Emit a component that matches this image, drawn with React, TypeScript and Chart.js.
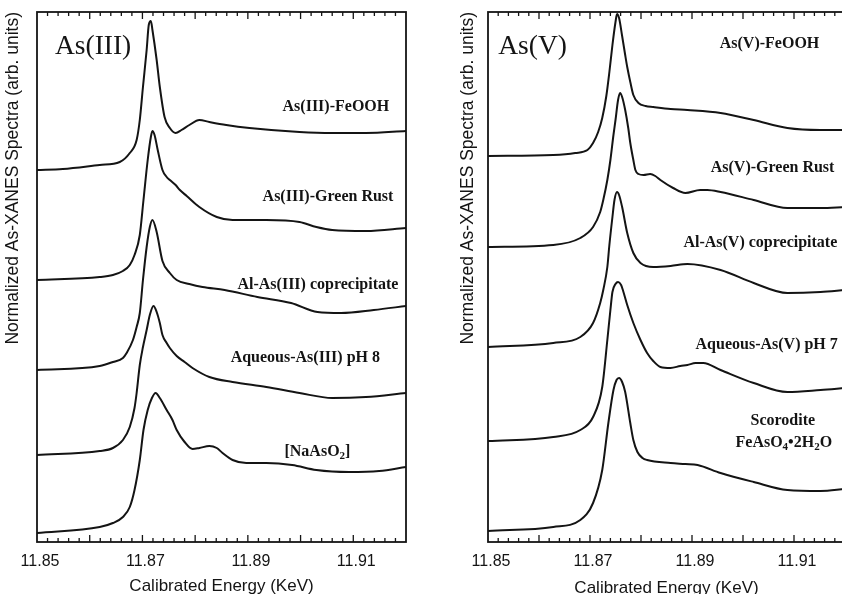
import React, { useEffect, useRef } from "react";
import { Chart, registerables } from "chart.js";

Chart.register(...registerables);

// ---------- axis ----------
const xMin = 11.85;
const xMax = 11.92;
const xTickLabels = ["11.85", "11.87", "11.89", "11.91"];
const yMin = 0;
const yMax = 5.3;

// ---------- As(III) panel (energy keV, stacked normalized intensity) ----------
const asIIIFeOOH_E = [11.85, 11.8549, 11.8619, 11.8657, 11.8676, 11.8689, 11.8695, 11.8701, 11.8708, 11.8712, 11.8716, 11.8719, 11.8727, 11.8733, 11.8742, 11.8752, 11.8763, 11.8774, 11.8789, 11.8808, 11.8827, 11.8859, 11.8903, 11.8998, 11.906, 11.9124, 11.92];
const asIIIFeOOH_Y = [3.72, 3.73, 3.77, 3.8, 3.89, 4.02, 4.22, 4.55, 4.92, 5.17, 5.21, 5.12, 4.82, 4.55, 4.25, 4.14, 4.09, 4.12, 4.17, 4.22, 4.2, 4.17, 4.14, 4.1, 4.09, 4.09, 4.11];

const asIIIGreenRust_E = [11.85, 11.8619, 11.8644, 11.8663, 11.8676, 11.8685, 11.8695, 11.8702, 11.871, 11.8716, 11.8719, 11.8723, 11.8729, 11.8738, 11.8746, 11.8752, 11.8763, 11.8771, 11.8784, 11.8808, 11.8841, 11.8871, 11.8935, 11.8998, 11.903, 11.906, 11.9124, 11.92];
const asIIIGreenRust_Y = [2.62, 2.65, 2.67, 2.71, 2.77, 2.87, 3.07, 3.42, 3.82, 4.05, 4.11, 4.07, 3.92, 3.72, 3.65, 3.62, 3.57, 3.52, 3.46, 3.35, 3.25, 3.22, 3.22, 3.2, 3.15, 3.12, 3.11, 3.14];

const alAsIII_E = [11.85, 11.8619, 11.8644, 11.8663, 11.867, 11.8682, 11.8689, 11.8695, 11.8701, 11.8708, 11.8714, 11.8719, 11.8727, 11.8738, 11.8752, 11.8765, 11.8789, 11.8814, 11.8856, 11.8918, 11.8982, 11.9032, 11.9077, 11.9139, 11.92];
const alAsIII_Y = [1.72, 1.76, 1.8, 1.84, 1.89, 2.02, 2.15, 2.29, 2.62, 2.95, 3.15, 3.22, 3.1, 2.81, 2.69, 2.62, 2.58, 2.55, 2.52, 2.45, 2.39, 2.3, 2.29, 2.32, 2.36];

const aqAsIII_E = [11.85, 11.8619, 11.8644, 11.8663, 11.8676, 11.8685, 11.8689, 11.8695, 11.8701, 11.8708, 11.8714, 11.8721, 11.8727, 11.8733, 11.8738, 11.8746, 11.8752, 11.8765, 11.878, 11.8795, 11.8827, 11.8871, 11.8935, 11.8998, 11.906, 11.9124, 11.92];
const aqAsIII_Y = [0.87, 0.91, 0.94, 1.02, 1.15, 1.34, 1.49, 1.77, 1.95, 2.12, 2.27, 2.36, 2.3, 2.19, 2.07, 1.99, 1.94, 1.86, 1.8, 1.74, 1.65, 1.6, 1.55, 1.49, 1.44, 1.45, 1.49];

const naAsO2_E = [11.85, 11.8619, 11.8644, 11.8663, 11.8676, 11.8685, 11.8695, 11.8702, 11.871, 11.8718, 11.8725, 11.8733, 11.8746, 11.8757, 11.8765, 11.878, 11.8795, 11.8808, 11.8827, 11.8841, 11.8852, 11.8871, 11.8897, 11.8935, 11.8984, 11.903, 11.9092, 11.9149, 11.92];
const naAsO2_Y = [0.09, 0.15, 0.19, 0.25, 0.35, 0.52, 0.82, 1.12, 1.32, 1.44, 1.49, 1.44, 1.32, 1.22, 1.12, 1.0, 0.93, 0.94, 0.96, 0.94, 0.89, 0.82, 0.79, 0.79, 0.77, 0.72, 0.7, 0.71, 0.75];

// ---------- As(V) panel ----------
const asVFeOOH_E = [11.85, 11.8628, 11.8671, 11.8695, 11.8706, 11.8716, 11.8724, 11.8732, 11.8738, 11.8744, 11.875, 11.8753, 11.8757, 11.8763, 11.8769, 11.8773, 11.8779, 11.8785, 11.8795, 11.8809, 11.8824, 11.8858, 11.8891, 11.8956, 11.9021, 11.9087, 11.9152, 11.92];
const asVFeOOH_Y = [3.86, 3.87, 3.89, 3.92, 3.99, 4.1, 4.24, 4.46, 4.7, 4.97, 5.2, 5.28, 5.24, 5.06, 4.87, 4.75, 4.6, 4.47, 4.39, 4.36, 4.35, 4.33, 4.32, 4.29, 4.22, 4.14, 4.12, 4.12];

const asVGreenRust_E = [11.85, 11.8628, 11.8681, 11.8706, 11.872, 11.8726, 11.8734, 11.874, 11.8746, 11.875, 11.8755, 11.8759, 11.8763, 11.8769, 11.8775, 11.8779, 11.8785, 11.8789, 11.8795, 11.8805, 11.8818, 11.8828, 11.8838, 11.8863, 11.8887, 11.8916, 11.893, 11.8956, 11.9021, 11.9087, 11.9152, 11.92];
const asVGreenRust_Y = [2.95, 2.97, 3.04, 3.15, 3.3, 3.42, 3.62, 3.82, 4.07, 4.22, 4.42, 4.49, 4.45, 4.32, 4.14, 3.99, 3.82, 3.72, 3.68, 3.67, 3.68, 3.66, 3.62, 3.54, 3.49, 3.52, 3.52, 3.5, 3.42, 3.34, 3.34, 3.35];

const alAsV_E = [11.85, 11.8628, 11.8681, 11.8706, 11.872, 11.8726, 11.8734, 11.8738, 11.8744, 11.8748, 11.8753, 11.8757, 11.8763, 11.8773, 11.8785, 11.8799, 11.8824, 11.8858, 11.8891, 11.8956, 11.9021, 11.9087, 11.9152, 11.92];
const alAsV_Y = [1.95, 1.99, 2.05, 2.19, 2.39, 2.52, 2.75, 2.97, 3.25, 3.42, 3.5, 3.47, 3.35, 3.09, 2.89, 2.79, 2.75, 2.76, 2.78, 2.72, 2.59, 2.49, 2.5, 2.52];

const aqAsV_E = [11.85, 11.8628, 11.8681, 11.8706, 11.8724, 11.8734, 11.874, 11.8744, 11.875, 11.8755, 11.8761, 11.8765, 11.8773, 11.8785, 11.8799, 11.8812, 11.8824, 11.8838, 11.8858, 11.8877, 11.8891, 11.8907, 11.8922, 11.8956, 11.9021, 11.9087, 11.9152, 11.92];
const aqAsV_Y = [1.01, 1.05, 1.12, 1.25, 1.55, 2.02, 2.32, 2.5, 2.58, 2.6, 2.57, 2.51, 2.37, 2.19, 2.02, 1.89, 1.81, 1.75, 1.74, 1.76, 1.77, 1.79, 1.79, 1.72, 1.59, 1.5, 1.52, 1.54];

const scorodite_E = [11.85, 11.8628, 11.8681, 11.8706, 11.8724, 11.8736, 11.8746, 11.8752, 11.8757, 11.8763, 11.8769, 11.8779, 11.8785, 11.8793, 11.8803, 11.8812, 11.8858, 11.8887, 11.8911, 11.8956, 11.9021, 11.9087, 11.9152, 11.92];
const scorodite_Y = [0.11, 0.15, 0.22, 0.39, 0.72, 1.19, 1.52, 1.62, 1.64, 1.6, 1.5, 1.19, 1.02, 0.9, 0.84, 0.82, 0.79, 0.78, 0.77, 0.69, 0.6, 0.52, 0.51, 0.53];

// ---------- annotations (text, energy, value) ----------
type Label = { text: string; x: number; y: number; align: CanvasTextAlign; big?: boolean };

const asIIILabels: Label[] = [
  { text: "As(III)", x: 11.8534, y: 4.95, align: "left", big: true },
  { text: "As(III)-FeOOH", x: 11.9067, y: 4.35, align: "center" },
  { text: "As(III)-Green Rust", x: 11.9052, y: 3.45, align: "center" },
  { text: "Al-As(III) coprecipitate", x: 11.9033, y: 2.57, align: "center" },
  { text: "Aqueous-As(III) pH 8", x: 11.9009, y: 1.84, align: "center" },
  { text: "[NaAsO_2]", x: 11.9032, y: 0.9, align: "center" },
];

const asVLabels: Label[] = [
  { text: "As(V)", x: 11.852, y: 4.95, align: "left", big: true },
  { text: "As(V)-FeOOH", x: 11.9052, y: 4.98, align: "center" },
  { text: "As(V)-Green Rust", x: 11.9058, y: 3.74, align: "center" },
  { text: "Al-As(V) coprecipitate", x: 11.9034, y: 2.99, align: "center" },
  { text: "Aqueous-As(V) pH 7", x: 11.8907, y: 1.97, align: "left" },
  { text: "Scorodite", x: 11.9078, y: 1.21, align: "center" },
  { text: "FeAsO_4•2H_2O", x: 11.908, y: 0.99, align: "center" },
];

const yTitle = "Normalized As-XANES Spectra (arb. units)";
const xTitle = "Calibrated Energy (KeV)";

const INK = "#141414";
const SANS = '"Liberation Sans", Arial, Helvetica, sans-serif';
const SERIF = '"Liberation Serif", "Times New Roman", Times, serif';

type Panel = {
  left: number;
  width: number;
  yAxisWidth: number;
  rightPad: number;
  yTitlePad: number;
  xTitlePad: number;
  series: { e: number[]; v: number[] }[];
  labels: Label[];
};

const panels: Panel[] = [
  {
    left: 0,
    width: 420,
    yAxisWidth: 37,
    rightPad: 14,
    yTitlePad: 3,
    xTitlePad: -3,
    series: [
      { e: asIIIFeOOH_E, v: asIIIFeOOH_Y },
      { e: asIIIGreenRust_E, v: asIIIGreenRust_Y },
      { e: alAsIII_E, v: alAsIII_Y },
      { e: aqAsIII_E, v: aqAsIII_Y },
      { e: naAsO2_E, v: naAsO2_Y },
    ],
    labels: asIIILabels,
  },
  {
    left: 420,
    width: 440,
    yAxisWidth: 68,
    rightPad: 15,
    yTitlePad: 37.5,
    xTitlePad: -5,
    series: [
      { e: asVFeOOH_E, v: asVFeOOH_Y },
      { e: asVGreenRust_E, v: asVGreenRust_Y },
      { e: alAsV_E, v: alAsV_Y },
      { e: aqAsV_E, v: aqAsV_Y },
      { e: scorodite_E, v: scorodite_Y },
    ],
    labels: asVLabels,
  },
];

function drawRich(ctx: CanvasRenderingContext2D, text: string, x: number, y: number, align: CanvasTextAlign, font: string, subFont: string) {
  const parts: { t: string; sub: boolean }[] = [];
  let buf = "";
  for (let i = 0; i < text.length; i++) {
    if (text[i] === "_" && i + 1 < text.length) {
      if (buf) parts.push({ t: buf, sub: false });
      buf = "";
      parts.push({ t: text[i + 1], sub: true });
      i++;
    } else buf += text[i];
  }
  if (buf) parts.push({ t: buf, sub: false });
  let total = 0;
  const widths = parts.map((p) => {
    ctx.font = p.sub ? subFont : font;
    const w = ctx.measureText(p.t).width;
    total += w;
    return w;
  });
  let cx = align === "center" ? x - total / 2 : align === "right" ? x - total : x;
  ctx.textAlign = "left";
  ctx.textBaseline = "middle";
  parts.forEach((p, i) => {
    ctx.font = p.sub ? subFont : font;
    ctx.fillText(p.t, cx, p.sub ? y + 4 : y);
    cx += widths[i];
  });
}

const decor = {
  id: "decor",
  afterDraw(chart: any, _args: any, opts: any) {
    const { ctx, chartArea } = chart;
    const xs = chart.scales.x;
    const ys = chart.scales.y;
    ctx.save();
    ctx.strokeStyle = INK;
    ctx.lineWidth = 1.8;
    ctx.strokeRect(chartArea.left, chartArea.top, chartArea.right - chartArea.left, chartArea.bottom - chartArea.top);
    // inward ticks on top and bottom edges
    ctx.lineWidth = 1.3;
    const n = Math.round((xMax - xMin) / 0.002);
    for (let i = 1; i < n; i++) {
      const px = xs.getPixelForValue(xMin + i * 0.002);
      const len = i % 5 === 0 ? 7 : 4;
      ctx.beginPath();
      ctx.moveTo(px, chartArea.bottom);
      ctx.lineTo(px, chartArea.bottom - len);
      ctx.moveTo(px, chartArea.top);
      ctx.lineTo(px, chartArea.top + len);
      ctx.stroke();
    }
    ctx.fillStyle = INK;
    (opts.labels as Label[]).forEach((l) => {
      const px = xs.getPixelForValue(l.x);
      const py = ys.getPixelForValue(l.y);
      if (l.big) drawRich(ctx, l.text, px, py, l.align, `27.5px ${SERIF}`, `18px ${SERIF}`);
      else drawRich(ctx, l.text, px, py, l.align, `bold 16px ${SERIF}`, `bold 11px ${SERIF}`);
    });
    ctx.restore();
  },
};

function PanelChart({ p }: { p: Panel }) {
  const ref = useRef<HTMLCanvasElement | null>(null);
  useEffect(() => {
    if (!ref.current) return;
    const chart = new Chart(ref.current, {
      type: "line",
      data: {
        datasets: p.series.map((s) => ({
          data: s.e.map((e, i) => ({ x: e, y: s.v[i] })),
          borderColor: INK,
          borderWidth: 2,
          pointRadius: 0,
          fill: false,
          cubicInterpolationMode: "monotone" as const,
        })),
      },
      options: {
        animation: false,
        responsive: false,
        layout: { padding: { top: 12, right: p.rightPad, left: 0, bottom: 0 } },
        plugins: {
          legend: { display: false },
          tooltip: { enabled: false },
          decor: { labels: p.labels },
        } as any,
        scales: {
          x: {
            type: "linear",
            min: xMin,
            max: xMax,
            grid: { display: false },
            border: { display: false },
            ticks: {
              stepSize: 0.01,
              autoSkip: false,
              maxRotation: 0,
              padding: 2,
              labelOffset: 3,
              color: INK,
              font: { family: SANS, size: 16 },
              callback: (v: any) => {
                const s = Number(v).toFixed(2);
                return xTickLabels.includes(s) ? s : "";
              },
            },
            title: {
              display: true,
              text: xTitle,
              color: INK,
              font: { family: SANS, size: 17 },
              padding: { top: 0, bottom: p.xTitlePad },
            },
            afterFit: (s: any) => {
              s.height = 52;
            },
          },
          y: {
            type: "linear",
            min: yMin,
            max: yMax,
            grid: { display: false },
            border: { display: false },
            ticks: { display: false },
            title: {
              display: true,
              text: yTitle,
              align: "end",
              color: INK,
              font: { family: SANS, size: 17.5 },
              padding: { top: p.yTitlePad, bottom: 0 },
            },
            afterFit: (s: any) => {
              s.width = p.yAxisWidth;
            },
          },
        },
      } as any,
      plugins: [decor],
    });
    return () => chart.destroy();
  }, [p]);
  return (
    <canvas
      ref={ref}
      width={p.width}
      height={594}
      style={{ position: "absolute", left: p.left, top: 0, width: p.width, height: 594, display: "block" }}
    />
  );
}

export default function App() {
  return (
    <div style={{ position: "fixed", left: 0, top: 0, width: 842, height: 594, overflow: "hidden", background: "#fff" }}>
      {panels.map((p, i) => (
        <PanelChart key={i} p={p} />
      ))}
    </div>
  );
}
